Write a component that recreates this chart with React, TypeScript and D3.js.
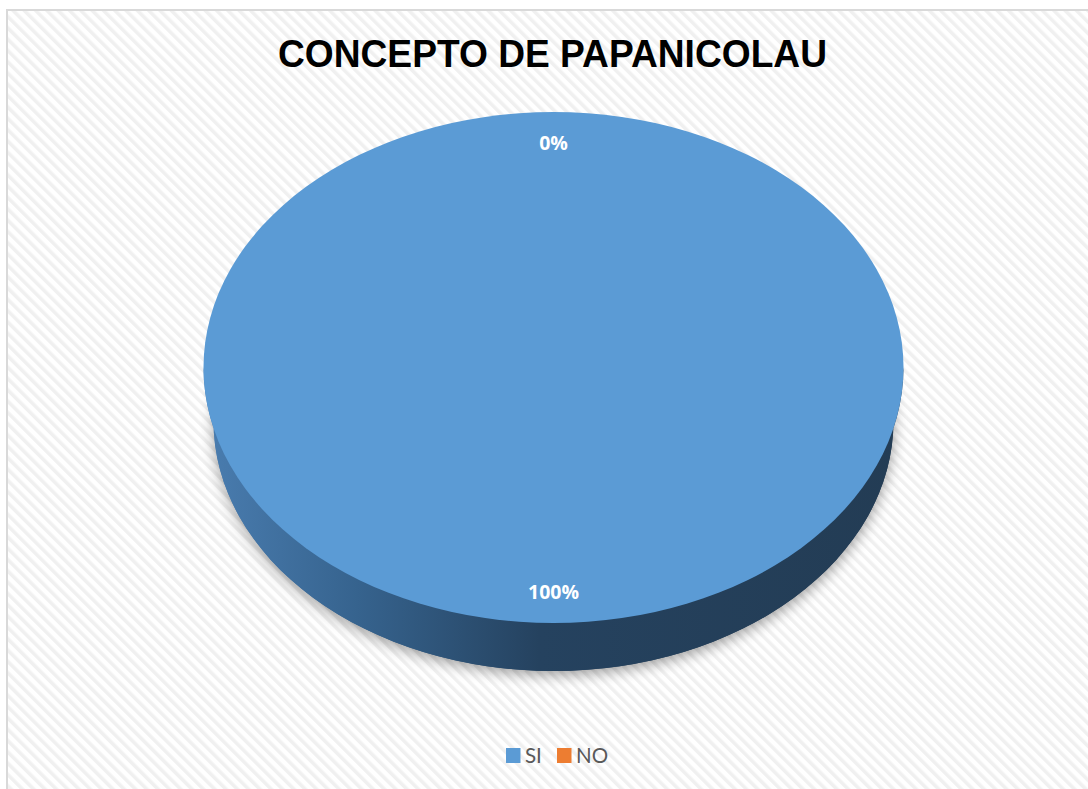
import React from 'react';
import * as d3 from 'd3';

const categories = ['SI', 'NO'];
const values = [100, 0];
const colors = ['#5b9bd5', '#ed7d31'];
const title = 'CONCEPTO DE PAPANICOLAU';

const W = 1088, H = 789;
const cx = 553.5, cy = 367.5;
const rx = 350, ry = 255.5;
// bottom rim of the disk (slightly smaller, lower ellipse)
const rxB = 340, ryB = 250, cyB = 671 - 250;

function App() {
  const total = d3.sum(values);
  const pie = d3.pie<number>().value(d => d).sort(null);
  const slices = pie(values);
  const arc = d3.arc<d3.PieArcDatum<number>>().innerRadius(0).outerRadius(rx);
  const labelArc = d3.arc<d3.PieArcDatum<number>>().innerRadius(rx * 0.88).outerRadius(rx * 0.88);
  const sy = ry / rx;
  const dB = cyB - cy;

  // side wall: band between the top ellipse and the lower ellipse
  const side = `M${-rx},0 A${rx},${ry} 0 0 0 ${rx},0 L${rxB},${dB} A${rxB},${ryB} 0 0 1 ${-rxB},${dB} Z`;
  const lower = `M${-rxB},${dB} A${rxB},${ryB} 0 1 0 ${rxB},${dB} A${rxB},${ryB} 0 1 0 ${-rxB},${dB} Z`;

  return (
    <svg width={W} height={H} style={{ position: 'absolute', left: 0, top: 0 }}>
      <defs>
        <pattern id="stripes" width="8" height="8" patternUnits="userSpaceOnUse" patternTransform="rotate(-45)">
          <rect width="8" height="8" fill="#ffffff" />
          <rect width="3.5" height="8" fill="#f0f0f0" />
        </pattern>
        <linearGradient id="sideGrad" x1="0" x2="1" y1="0" y2="0">
          <stop offset="0%" stopColor="#4a7db0" />
          <stop offset="22%" stopColor="#36638e" />
          <stop offset="48%" stopColor="#25425f" />
          <stop offset="100%" stopColor="#233c54" />
        </linearGradient>
        <filter id="blur" x="-20%" y="-20%" width="140%" height="140%">
          <feGaussianBlur stdDeviation="7" />
        </filter>
      </defs>
      <rect x={0} y={0} width={W} height={H} fill="#ffffff" />
      <rect x={7} y={10} width={W + 20} height={H + 20} fill="url(#stripes)" stroke="#d9d9d9" strokeWidth={2} />

      <text x={552.5} y={67} textAnchor="middle" fontFamily="'Liberation Sans', Arial, sans-serif"
        fontWeight="bold" fontSize={38} textLength={549} lengthAdjust="spacingAndGlyphs" fill="#000000">{title}</text>

      <g transform={`translate(${cx},${cy})`}>
        <path d={lower} transform="translate(0,4)" fill="#000" opacity={0.38} filter="url(#blur)" />
        <path d={lower} fill="url(#sideGrad)" />
        <path d={side} fill="url(#sideGrad)" />
        <g transform={`scale(1,${sy})`}>
          {slices.map((s, i) => (
            <path key={categories[i]} d={arc(s) || ''} fill={colors[i]} />
          ))}
        </g>
        {slices.map((s, i) => {
          const [lx, ly] = labelArc.centroid(s);
          return (
            <text key={'l' + i} x={lx} y={ly * sy} dy="0.36em" textAnchor="middle"
              fontFamily="'Open Sans', 'Liberation Sans', sans-serif" fontWeight="bold"
              fontSize={19.5} fill="#ffffff">
              {Math.round((values[i] / total) * 100) + '%'}
            </text>
          );
        })}
      </g>

      <g transform="translate(506,748)">
        {categories.map((c, i) => (
          <g key={c} transform={`translate(${i * 51},0)`}>
            <rect x={0} y={0} width={14.5} height={15} fill={colors[i]} />
            <text x={19} y={15} fontFamily="Lato, 'Open Sans', sans-serif"
              fontSize={20.5} fill="#595959">{c}</text>
          </g>
        ))}
      </g>
    </svg>
  );
}

export default App;
